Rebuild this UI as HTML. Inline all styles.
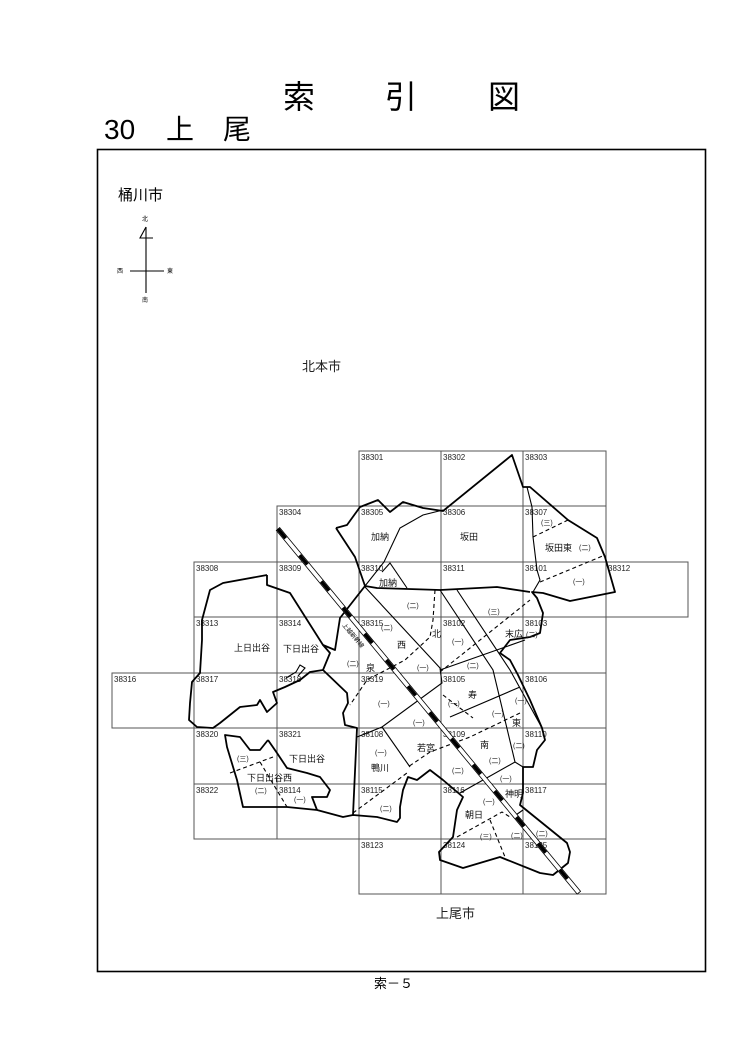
<!DOCTYPE html>
<html><head><meta charset="utf-8"><style>
html,body{margin:0;padding:0;background:#fff;}
svg{display:block;font-family:"Liberation Sans","Noto Sans CJK JP",sans-serif;}
.g{fill:none;stroke:#555;stroke-width:1}
.b{fill:none;stroke:#000;stroke-width:1.8;stroke-linejoin:round}
.t{fill:none;stroke:#000;stroke-width:1.1}
.d{fill:none;stroke:#000;stroke-width:1.1;stroke-dasharray:4 3}
.n{font-size:8px;fill:#222}
.p{font-size:9px;fill:#111}
.s{font-size:7px;fill:#222}
.h{font-family:"Noto Sans CJK JP","Liberation Sans",sans-serif;}
</style></head><body>
<svg width="747" height="1061" viewBox="0 0 747 1061" xmlns="http://www.w3.org/2000/svg">
<text class="h" x="283" y="108" font-size="32">索</text>
<text class="h" x="385" y="108" font-size="32">引</text>
<text class="h" x="488" y="108" font-size="32">図</text>
<text x="104" y="139" font-size="28">30</text>
<text class="h" x="166" y="139" font-size="28">上</text>
<text class="h" x="223" y="139" font-size="28">尾</text>
<rect x="97.5" y="149.5" width="608" height="822" fill="none" stroke="#000" stroke-width="1.6"/>
<text x="118" y="200" font-size="15">桶川市</text>
<text x="142" y="221" font-size="6">北</text>
<path d="M146 227V293M130 271H164M146 227L140 238H153" class="t" stroke-width="0.8"/>
<text x="117" y="273" font-size="6">西</text><text x="167" y="273" font-size="6">東</text>
<text x="142" y="302" font-size="6">南</text>
<text x="302" y="371" font-size="13" fill="#222">北本市</text>
<text x="436" y="918" font-size="13" fill="#222">上尾市</text>
<text x="374" y="988" font-size="13">索－５</text>
<g class="g">
<rect x="359" y="451" width="247" height="55"/><line x1="441" y1="451" x2="441" y2="506"/><line x1="523" y1="451" x2="523" y2="506"/>
<rect x="277" y="506" width="329" height="56"/><line x1="359" y1="506" x2="359" y2="562"/><line x1="441" y1="506" x2="441" y2="562"/><line x1="523" y1="506" x2="523" y2="562"/>
<rect x="194" y="562" width="494" height="55"/><line x1="277" y1="562" x2="277" y2="617"/><line x1="359" y1="562" x2="359" y2="617"/><line x1="441" y1="562" x2="441" y2="617"/><line x1="523" y1="562" x2="523" y2="617"/><line x1="606" y1="562" x2="606" y2="617"/>
<rect x="194" y="617" width="412" height="56"/><line x1="277" y1="617" x2="277" y2="673"/><line x1="359" y1="617" x2="359" y2="673"/><line x1="441" y1="617" x2="441" y2="673"/><line x1="523" y1="617" x2="523" y2="673"/>
<rect x="112" y="673" width="494" height="55"/><line x1="194" y1="673" x2="194" y2="728"/><line x1="277" y1="673" x2="277" y2="728"/><line x1="359" y1="673" x2="359" y2="728"/><line x1="441" y1="673" x2="441" y2="728"/><line x1="523" y1="673" x2="523" y2="728"/>
<rect x="194" y="728" width="412" height="56"/><line x1="277" y1="728" x2="277" y2="784"/><line x1="359" y1="728" x2="359" y2="784"/><line x1="441" y1="728" x2="441" y2="784"/><line x1="523" y1="728" x2="523" y2="784"/>
<rect x="194" y="784" width="412" height="55"/><line x1="277" y1="784" x2="277" y2="839"/><line x1="359" y1="784" x2="359" y2="839"/><line x1="441" y1="784" x2="441" y2="839"/><line x1="523" y1="784" x2="523" y2="839"/>
<rect x="359" y="839" width="247" height="55"/><line x1="441" y1="839" x2="441" y2="894"/><line x1="523" y1="839" x2="523" y2="894"/>
</g>
<g class="n">
<text x="361" y="460">38301</text><text x="443" y="460">38302</text><text x="525" y="460">38303</text>
<text x="279" y="515">38304</text><text x="361" y="515">38305</text><text x="443" y="515">38306</text><text x="525" y="515">38307</text>
<text x="196" y="571">38308</text><text x="279" y="571">38309</text><text x="361" y="571">38310</text><text x="443" y="571">38311</text><text x="525" y="571">38101</text><text x="608" y="571">38312</text>
<text x="196" y="626">38313</text><text x="279" y="626">38314</text><text x="361" y="626">38315</text><text x="443" y="626">38102</text><text x="525" y="626">38103</text>
<text x="114" y="682">38316</text><text x="196" y="682">38317</text><text x="279" y="682">38318</text><text x="361" y="682">38319</text><text x="443" y="682">38105</text><text x="525" y="682">38106</text>
<text x="196" y="737">38320</text><text x="279" y="737">38321</text><text x="361" y="737">38108</text><text x="443" y="737">38109</text><text x="525" y="737">38110</text>
<text x="196" y="793">38322</text><text x="279" y="793">38114</text><text x="361" y="793">38115</text><text x="443" y="793">38116</text><text x="525" y="793">38117</text>
<text x="361" y="848">38123</text><text x="443" y="848">38124</text><text x="525" y="848">38125</text>
</g>
<!-- outer boundary -->
<path class="b" d="M336 528L347 525L360 507L378 500L390 512L403 502L423 508L443 511L512 455L523 487L530 487L568 520L597 538L605 557L615 592L600 595L570 601L543 593L532 592L537 598L543 613L540 633L530 637L510 640L500 653L510 660L518 675L530 700L542 728L545 740L537 750L533 767L523 767L523 793L520 805L567 843L570 852L568 863L553 875L540 873L500 857L463 868L440 860L439 852L453 837L457 810L463 797L443 780L430 770L417 780L408 777L403 790L400 807L400 818L397 822L377 817L353 815L343 817L317 810L287 807L243 807L237 780L227 747L225 735L240 737L250 750L260 750L268 740"/>
<path class="b" d="M317 810L312 797L327 797L330 790L320 777L307 773L287 768L277 753L268 740"/>
<path class="b" d="M353 815L357 728L345 725L343 713L348 703L347 693L323 670L330 653L323 645L335 650L340 618L365 586L355 557L336 528"/>
<path class="b" d="M267 575L223 583L210 590L202 620L202 640L200 673L192 682L190 703L189 720L197 727L213 728L220 723L240 707L257 705L260 700L267 712L277 703L273 692L285 687L300 680L310 672L323 670"/>
<path class="b" d="M267 575L267 585L290 593L323 645"/>
<path class="t" d="M286 678L296 672L300 665L305 668L298 676"/>
<path class="b" d="M365 586L377 588L440 590L497 587L530 592"/>
<!-- internal solid -->
<path class="t" d="M365 586L384 562L400 528L423 515L443 510"/>
<path class="t" d="M382 572L390 563L407 588"/>
<path class="t" d="M527 487L532 507L533 537L537 570L540 580L533 592"/>
<path class="t" d="M365 587L440 668L442 683L382 727L357 737"/>
<path class="t" d="M382 727L410 767"/>
<path class="t" d="M440 590L493 670L515 762"/>
<path class="t" d="M457 590L510 670L542 728"/>
<path class="t" d="M450 717L520 687"/>
<path class="t" d="M460 793L515 762L523 767"/>
<path class="t" d="M440 670L525 640"/>
<path class="t" d="M513 817L523 810"/>
<!-- dashed -->
<path class="d" d="M533 537L568 520"/>
<path class="d" d="M540 582L605 555"/>
<path class="d" d="M435 590L433 620L430 637L405 660L367 680L350 705"/>
<path class="d" d="M440 672L530 600"/>
<path class="d" d="M520 713L470 737L430 752L408 767"/>
<path class="d" d="M443 695L473 718"/>
<path class="d" d="M353 813L407 773"/>
<path class="d" d="M230 773L273 757"/>
<path class="d" d="M260 762L287 807"/>
<path class="d" d="M457 837L502 812L510 817"/>
<path class="d" d="M490 820L505 857"/>
<!-- railway -->
<g transform="translate(278,529) rotate(50.4)">
<rect x="0" y="-2.2" width="472" height="4.4" fill="#fff" stroke="#000" stroke-width="0.8"/>
<line x1="0" y1="0" x2="472" y2="0" stroke="#000" stroke-width="3.5" stroke-dasharray="12 22"/>
<text x="115" y="12" font-size="6">上越新幹線</text>
</g>
<g class="p">
<text x="371" y="540">加納</text><text x="460" y="540">坂田</text><text x="545" y="551">坂田東</text>
<text x="379" y="586">加納</text><text x="234" y="651">上日出谷</text><text x="283" y="652">下日出谷</text>
<text x="397" y="648">西</text><text x="432" y="637">北</text><text x="505" y="637">末広</text>
<text x="366" y="671">泉</text><text x="468" y="698">寿</text><text x="512" y="726">東</text>
<text x="417" y="751">若宮</text><text x="371" y="771">鴨川</text><text x="480" y="748">南</text>
<text x="505" y="797">神明</text><text x="465" y="818">朝日</text>
<text x="289" y="762">下日出谷</text><text x="247" y="781">下日出谷西</text>
</g>
<g class="s">
<text x="541" y="525">(三)</text><text x="579" y="550">(二)</text><text x="573" y="584">(一)</text>
<text x="407" y="608">(二)</text><text x="488" y="614">(三)</text><text x="526" y="637">(二)</text>
<text x="381" y="630">(二)</text><text x="452" y="644">(一)</text><text x="347" y="666">(二)</text>
<text x="417" y="670">(一)</text><text x="467" y="668">(二)</text><text x="448" y="706">(一)</text>
<text x="378" y="706">(一)</text><text x="413" y="725">(一)</text><text x="492" y="716">(一)</text>
<text x="515" y="703">(一)</text><text x="375" y="755">(一)</text><text x="489" y="763">(二)</text>
<text x="452" y="773">(二)</text><text x="513" y="748">(二)</text><text x="500" y="781">(一)</text>
<text x="483" y="804">(一)</text><text x="480" y="839">(三)</text><text x="511" y="838">(二)</text>
<text x="536" y="836">(二)</text><text x="237" y="761">(三)</text><text x="255" y="793">(二)</text>
<text x="294" y="802">(一)</text><text x="380" y="811">(二)</text>
</g>
</svg>
</body></html>
